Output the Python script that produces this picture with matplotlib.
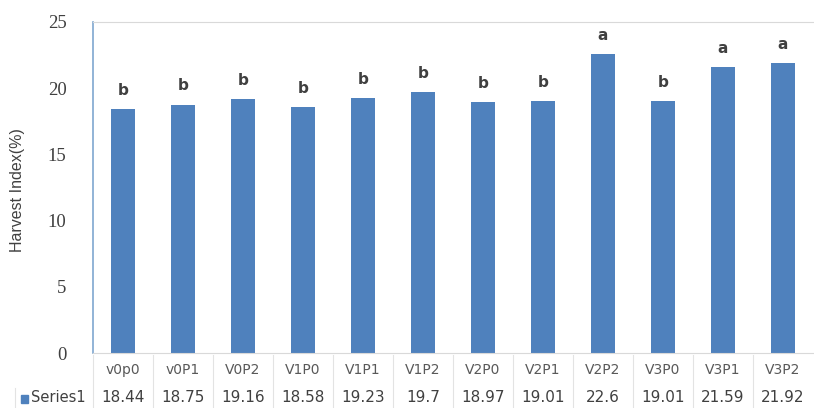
import matplotlib
matplotlib.use("Agg")
import matplotlib.pyplot as plt
from matplotlib.lines import Line2D
from matplotlib.patches import Rectangle

categories = ["v0p0", "v0P1", "V0P2", "V1P0", "V1P1", "V1P2",
              "V2P0", "V2P1", "V2P2", "V3P0", "V3P1", "V3P2"]
values = [18.44, 18.75, 19.16, 18.58, 19.23, 19.7,
          18.97, 19.01, 22.6, 19.01, 21.59, 21.92]
value_labels = ["18.44", "18.75", "19.16", "18.58", "19.23", "19.7",
                "18.97", "19.01", "22.6", "19.01", "21.59", "21.92"]
letters = ["b", "b", "b", "b", "b", "b", "b", "b", "a", "b", "a", "a"]
series_name = "Series1"
y_label = "Harvest Index(%)"
y_ticks = [0, 5, 10, 15, 20, 25]

W, H = 814, 408
fig = plt.figure(figsize=(W / 100, H / 100), dpi=100)
left, right, top, bottom = 93, 813, 22, 353
ax = fig.add_axes([left / W, 1 - bottom / H, (right - left) / W, (bottom - top) / H])

bar_color = "#4F81BD"
x = list(range(len(categories)))
ax.bar(x, values, width=0.41, color=bar_color, zorder=2)
ax.set_xlim(-0.5, len(categories) - 0.5)
ax.set_ylim(0, 25)
ax.set_yticks(y_ticks)
ax.set_yticklabels([str(t) for t in y_ticks], family="Liberation Serif",
                   fontsize=13.5, color="#404040")
ax.tick_params(axis="y", length=0, pad=19)
ax.set_xticks([])

ax.spines["right"].set_visible(False)
ax.spines["top"].set_color("#D9D9D9")
ax.spines["bottom"].set_color("#D9D9D9")
ax.spines["left"].set_color("#7FA7CF")
ax.spines["left"].set_linewidth(1.2)

for xi, v, l in zip(x, values, letters):
    ax.annotate(l, (xi, v), xytext=(0, 13.5), textcoords="offset points",
                ha="center", va="center", fontsize=11, fontweight="bold",
                color="#404040", family="DejaVu Sans")

fig.text(18 / W, 1 - 190 / H, y_label, rotation=90, ha="center", va="center",
         fontsize=11.5, color="#404040", family="Liberation Sans")

# data table below the axis
col_w = (right - left) / len(categories)
cat_y = 370
val_y = 398
for i, (c, vl) in enumerate(zip(categories, value_labels)):
    cx = left + col_w * (i + 0.5)
    fig.text(cx / W, 1 - cat_y / H, c, ha="center", va="center",
             fontsize=10, color="#595959", family="DejaVu Sans")
    fig.text(cx / W, 1 - val_y / H, vl, ha="center", va="center",
             fontsize=11, color="#404040", family="DejaVu Sans")
for i in range(1, len(categories)):
    xs = (left + col_w * i) / W
    fig.add_artist(Line2D([xs, xs], [1 - 355 / H, 0], color="#E3E3E3", lw=0.8))
fig.add_artist(Line2D([left / W, left / W], [1 - 355 / H, 0], color="#E3E3E3", lw=0.8))
fig.add_artist(Line2D([15 / W, 15 / W], [1 - 388 / H, 0], color="#E3E3E3", lw=0.8))
fig.add_artist(Rectangle((21 / W, 1 - 403 / H), 7 / W, 8 / H, color=bar_color,
                         transform=fig.transFigure))
fig.text(31 / W, 1 - val_y / H, series_name, ha="left", va="center",
         fontsize=10.5, color="#404040", family="DejaVu Sans")

fig.savefig("out.png", dpi=100)
